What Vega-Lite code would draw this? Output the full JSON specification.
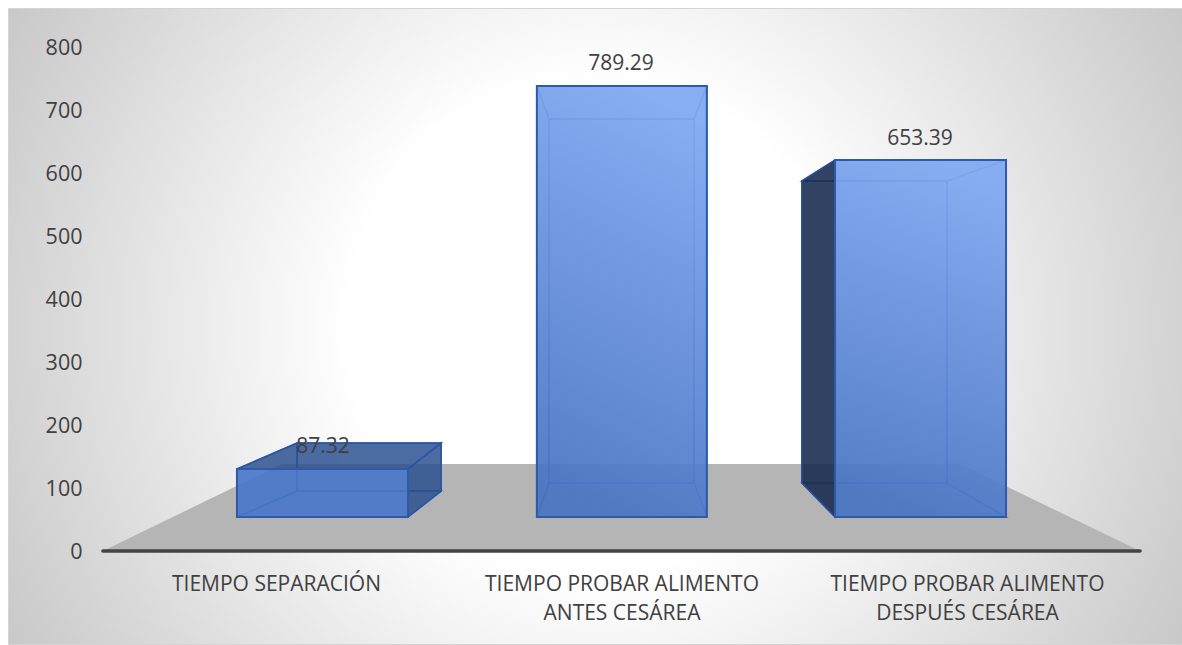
{
"$schema":"https://vega.github.io/schema/vega-lite/v6.json",
"width":1174,"height":636,
"autosize":{"type":"none"},
"padding":{"left":8,"top":8,"right":0,"bottom":1},
"background":"white",
"view":{"stroke":"#d4d4d4","strokeWidth":1,"fill":{"gradient":"radial","x1":0.5,"y1":0.5,"x2":0.5,"y2":0.5,"r1":0,"r2":0.7,"stops":[{"offset":0,"color":"#ffffff"},{"offset":0.3,"color":"#ffffff"},{"offset":1,"color":"#b4b4b4"}]}},
"config":{"font":"Open Sans"},
"datasets":{
"barras":[
{"categoria":"TIEMPO SEPARACIÓN","valor":87.32,"posX":1.136,"posY":168,"x":0.887,"x2":1.382,"y":54,"y2":130.2},
{"categoria":"TIEMPO PROBAR ALIMENTO ANTES CESÁREA","valor":789.29,"posX":1.9986,"posY":776,"x":1.755,"x2":2.247,"y":54,"y2":738.1},
{"categoria":"TIEMPO PROBAR ALIMENTO DESPUÉS CESÁREA","valor":653.39,"posX":2.864,"posY":657,"x":2.618,"x2":3.113,"y":54,"y2":620.6}
],
"fondos":[
{"barra":1,"x":1.061,"x2":1.478,"y":95.2,"y2":171.4},
{"barra":2,"x":1.790,"x2":2.210,"y":107.9,"y2":685.7},
{"barra":3,"x":2.522,"x2":2.942,"y":107.9,"y2":587.3}
],
"horizontales":[
{"cara":"b1-suelo","y":54,"x":0.887,"x2":1.382},{"cara":"b1-suelo","y":95.2,"x":1.061,"x2":1.478},
{"cara":"b2-suelo","y":54,"x":1.755,"x2":2.247},{"cara":"b2-suelo","y":107.9,"x":1.790,"x2":2.210},
{"cara":"b2-techo","y":685.7,"x":1.790,"x2":2.210},{"cara":"b2-techo","y":738.1,"x":1.755,"x2":2.247},
{"cara":"b3-suelo","y":54,"x":2.618,"x2":3.113},{"cara":"b3-suelo","y":107.9,"x":2.522,"x2":2.942},
{"cara":"b3-techo","y":587.3,"x":2.522,"x2":2.942},{"cara":"b3-techo","y":620.6,"x":2.618,"x2":3.113}
],
"verticales":[
{"cara":"b1-izq","x":0.887,"y":54,"y2":130.2},{"cara":"b1-izq","x":1.061,"y":95.2,"y2":171.4},
{"cara":"b2-izq","x":1.755,"y":54,"y2":738.1},{"cara":"b2-izq","x":1.790,"y":107.9,"y2":685.7},
{"cara":"b2-der","x":2.210,"y":107.9,"y2":685.7},{"cara":"b2-der","x":2.247,"y":54,"y2":738.1},
{"cara":"b3-der","x":2.942,"y":107.9,"y2":587.3},{"cara":"b3-der","x":3.113,"y":54,"y2":620.6}
]
},
"layer":[
{"data":{"values":[{"y":0,"x":0.499,"x2":3.501},{"y":138.1,"x":1.017,"x2":2.980}]},
 "mark":{"type":"area","orient":"horizontal","color":"#b5b5b5"},
 "encoding":{
  "y":{"field":"y","type":"quantitative","title":null,"scale":{"domain":[-147.6,861.9],"nice":false,"zero":false},
   "axis":{"values":[0,100,200,300,400,500,600,700,800],"title":null,"grid":false,"domain":false,"ticks":false,"labelPadding":-74,"labelOffset":1.5,"labelFontSize":21.5,"labelColor":"#404040","labelFont":"Open Sans","labelOverlap":false,"labelFlush":false}},
  "x":{"field":"x","type":"quantitative","stack":null,"title":null,"scale":{"domain":[0.2243,3.6223],"nice":false,"zero":false},
   "axis":{"values":[1,2,3],"title":null,"grid":false,"domain":false,"ticks":false,"labelPadding":-71,"labelFontSize":21,"labelColor":"#404040","labelFont":"Open Sans","labelBaseline":"top","labelLineHeight":29,"labelOverlap":false,"labelFlush":false,"labelLimit":0,
    "labelExpr":"datum.value==1?'TIEMPO SEPARACIÓN':datum.value==2?['TIEMPO PROBAR ALIMENTO','ANTES CESÁREA']:['TIEMPO PROBAR ALIMENTO','DESPUÉS CESÁREA']"}},
  "x2":{"field":"x2"}
 }},
{"data":{"values":[{"y":0,"x":0.499,"x2":3.501}]},
 "mark":{"type":"rule","color":"#444444","strokeWidth":3.5,"strokeCap":"round"},
 "encoding":{"y":{"field":"y","type":"quantitative","title":null},"x":{"field":"x","type":"quantitative","title":null},"x2":{"field":"x2"}}},
{"data":{"name":"fondos"},
 "mark":{"type":"rect","fill":"#4472c4","fillOpacity":0.25,"stroke":"#2f5fb5","strokeWidth":1.5,"strokeOpacity":0.8},
 "encoding":{"x":{"field":"x","type":"quantitative","title":null},"x2":{"field":"x2"},"y":{"field":"y","type":"quantitative","title":null},"y2":{"field":"y2"}}},
{"data":{"name":"horizontales"},
 "mark":{"type":"area","orient":"horizontal","fill":"#4472c4","fillOpacity":0.25,"stroke":"#2f5fb5","strokeWidth":1.5,"strokeOpacity":0.8},
 "encoding":{"detail":{"field":"cara"},"y":{"field":"y","type":"quantitative","title":null},"x":{"field":"x","type":"quantitative","stack":null,"title":null},"x2":{"field":"x2"}}},
{"data":{"name":"verticales"},
 "mark":{"type":"area","orient":"vertical","fill":"#4472c4","fillOpacity":0.25,"stroke":"#2f5fb5","strokeWidth":1.5,"strokeOpacity":0.8},
 "encoding":{"detail":{"field":"cara"},"x":{"field":"x","type":"quantitative","title":null},"y":{"field":"y","type":"quantitative","stack":null,"title":null},"y2":{"field":"y2"}}},
{"data":{"values":[{"cara":"b1-techo","y":130.2,"x":0.887,"x2":1.382},{"cara":"b1-techo","y":171.4,"x":1.061,"x2":1.478}]},
 "mark":{"type":"area","orient":"horizontal","fill":"#274b8c","fillOpacity":0.78,"stroke":"#2a55a5","strokeWidth":1.5},
 "encoding":{"detail":{"field":"cara"},"y":{"field":"y","type":"quantitative","title":null},"x":{"field":"x","type":"quantitative","stack":null,"title":null},"x2":{"field":"x2"}}},
{"data":{"values":[{"cara":"b1-der","x":1.382,"y":54,"y2":130.2},{"cara":"b1-der","x":1.478,"y":95.2,"y2":171.4}]},
 "mark":{"type":"area","orient":"vertical","fill":"#274b8c","fillOpacity":0.78,"stroke":"#2a55a5","strokeWidth":1.5},
 "encoding":{"detail":{"field":"cara"},"x":{"field":"x","type":"quantitative","title":null},"y":{"field":"y","type":"quantitative","stack":null,"title":null},"y2":{"field":"y2"}}},
{"data":{"values":[{"cara":"b3-izq","x":2.522,"y":107.9,"y2":587.3},{"cara":"b3-izq","x":2.618,"y":54,"y2":620.6}]},
 "mark":{"type":"area","orient":"vertical","fill":"#17294c","fillOpacity":0.86,"stroke":"#2a4f95","strokeWidth":1.5},
 "encoding":{"detail":{"field":"cara"},"x":{"field":"x","type":"quantitative","title":null},"y":{"field":"y","type":"quantitative","stack":null,"title":null},"y2":{"field":"y2"}}},
{"data":{"name":"barras"},
 "transform":[{"filter":"datum.valor>=100"}],
 "mark":{"type":"rect","stroke":"#2f5aa8","strokeWidth":2,"fill":{"gradient":"linear","x1":0.6,"y1":0,"x2":0.4,"y2":1,"stops":[{"offset":0,"color":"rgba(130,170,243,0.93)"},{"offset":1,"color":"rgba(72,116,195,0.9)"}]}},
 "encoding":{"x":{"field":"x","type":"quantitative","title":null},"x2":{"field":"x2"},"y":{"field":"y","type":"quantitative","title":null},"y2":{"field":"y2"}}},
{"data":{"name":"barras"},
 "transform":[{"filter":"datum.valor<100"}],
 "mark":{"type":"rect","stroke":"#2f5aa8","strokeWidth":2,"fill":"rgba(72,118,200,0.88)"},
 "encoding":{"x":{"field":"x","type":"quantitative","title":null},"x2":{"field":"x2"},"y":{"field":"y","type":"quantitative","title":null},"y2":{"field":"y2"}}},
{"data":{"name":"barras"},
 "mark":{"type":"text","fontSize":21,"dy":1.5,"color":"#404040","font":"Open Sans","baseline":"middle","align":"center"},
 "encoding":{"x":{"field":"posX","type":"quantitative","title":null},"y":{"field":"posY","type":"quantitative","title":null},"text":{"field":"valor","type":"quantitative","format":".2f"}}}
]
}
